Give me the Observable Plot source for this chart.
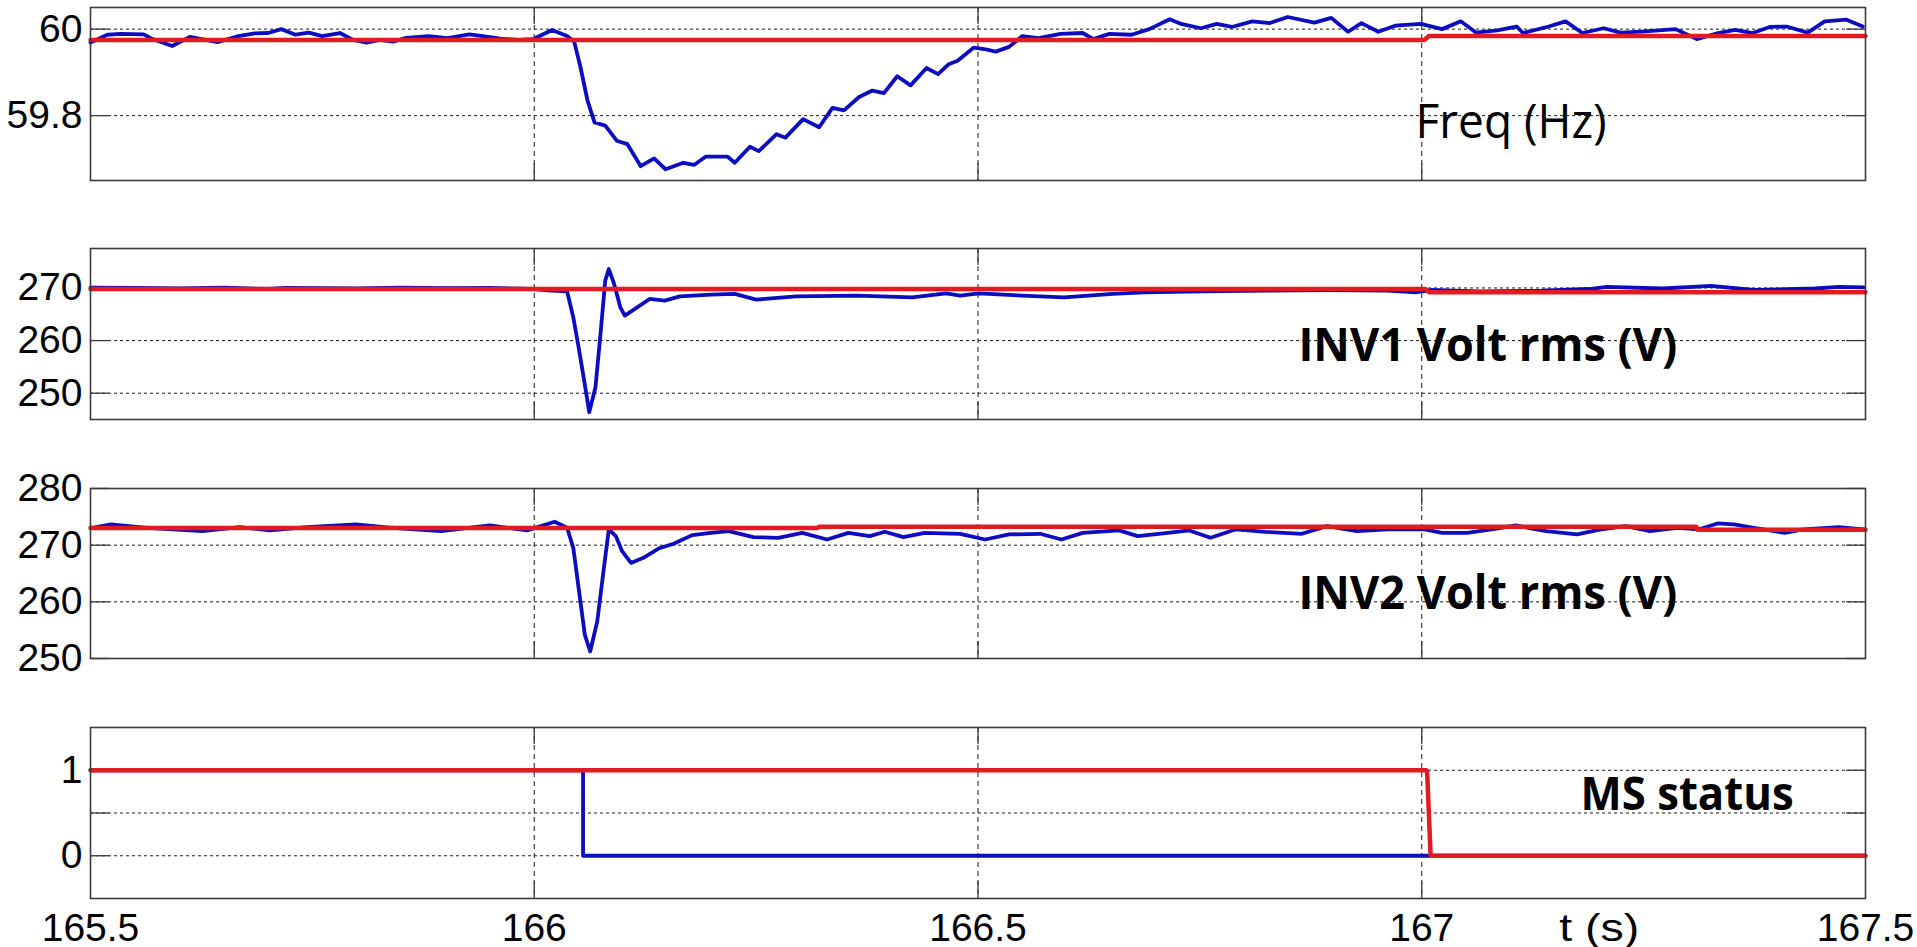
<!DOCTYPE html>
<html><head><meta charset="utf-8">
<script src="https://cdn.jsdelivr.net/npm/d3@7"></script>
<script src="https://cdn.jsdelivr.net/npm/@observablehq/plot@0.6"></script>
<style>html,body{margin:0;padding:0;background:#fff;} #chart svg{display:block;}</style>
</head><body><div id="chart"></div>
<script>
// ---------- data ----------
const xTicks = [165.5, 166, 166.5, 167, 167.5];
const xTickLabels = ["165.5", "166", "166.5", "167", "167.5"];
const xInnerTicks = [166, 166.5, 167];
const xAxisTitle = {t: 167.2, s: "t (s)"};

const freqTicks = [59.8, 60];
const freqTickLabels = ["59.8", "60"];
const inv1Ticks = [250, 260, 270];
const inv1TickLabels = ["250", "260", "270"];
const inv2Ticks = [250, 260, 270, 280];
const inv2TickLabels = ["250", "260", "270", "280"];
const msTicks = [0, 0.5, 1];
const msTickLabels = ["0", "", "1"];

// Frequency (Hz)
const freqT = [165.500,165.519,165.534,165.560,165.570,165.592,165.612,165.643,165.665,165.685,165.700,165.715,165.731,165.746,165.761,165.781,165.796,165.811,165.826,165.841,165.856,165.881,165.902,165.927,165.942,165.962,165.982,165.999,166.020,166.037,166.045,166.052,166.060,166.068,166.080,166.093,166.105,166.120,166.135,166.148,166.168,166.180,166.193,166.218,166.226,166.243,166.253,166.273,166.283,166.303,166.321,166.336,166.349,166.366,166.381,166.394,166.409,166.424,166.442,166.455,166.467,166.477,166.495,166.507,166.520,166.535,166.550,166.568,166.593,166.618,166.630,166.648,166.673,166.693,166.716,166.729,166.751,166.769,166.786,166.809,166.829,166.849,166.879,166.898,166.917,166.932,166.951,166.970,166.999,167.023,167.044,167.061,167.085,167.107,167.114,167.143,167.162,167.181,167.205,167.224,167.248,167.286,167.310,167.334,167.353,167.373,167.392,167.411,167.435,167.454,167.478,167.497];
const freqV = [59.969,59.987,59.989,59.988,59.977,59.961,59.982,59.970,59.983,59.990,59.991,60.000,59.987,59.992,59.984,59.991,59.975,59.969,59.975,59.971,59.980,59.984,59.979,59.988,59.984,59.978,59.975,59.977,59.998,59.984,59.971,59.913,59.835,59.784,59.777,59.742,59.734,59.683,59.701,59.676,59.691,59.686,59.705,59.705,59.691,59.728,59.718,59.757,59.749,59.792,59.773,59.818,59.812,59.843,59.858,59.852,59.891,59.870,59.910,59.896,59.919,59.927,59.957,59.954,59.948,59.959,59.984,59.979,59.989,59.991,59.977,59.989,59.987,60.000,60.023,60.012,60.002,60.012,60.005,60.018,60.014,60.028,60.015,60.026,59.994,60.014,59.994,60.008,60.012,60.000,60.018,59.992,59.997,60.006,59.991,60.006,60.018,59.991,60.002,59.992,59.994,60.000,59.977,59.991,59.998,59.991,60.005,60.006,59.992,60.018,60.022,60.006];
const freqRefT = [165.5, 167.003, 167.008, 167.5];
const freqRefV = [59.975, 59.975, 59.984, 59.984];

// INV1 voltage rms (V)
const inv1T = [165.500,165.550,165.600,165.650,165.700,165.720,165.800,165.850,165.900,165.950,166.000,166.019,166.037,166.044,166.050,166.055,166.062,166.069,166.075,166.080,166.084,166.090,166.097,166.102,166.116,166.130,166.147,166.164,166.199,166.226,166.250,166.295,166.364,166.426,166.464,166.480,166.501,166.549,166.597,166.652,166.687,166.755,166.824,166.893,166.962,166.993,167.010,167.065,167.134,167.188,167.209,167.271,167.326,167.374,167.443,167.470,167.498];
const inv1V = [270.05,270.00,269.90,270.05,269.80,270.00,269.90,270.05,269.95,270.00,269.80,269.49,269.36,264.42,258.73,253.67,246.40,251.14,261.90,271.39,273.60,270.76,266.32,264.74,266.32,267.91,267.59,268.41,268.73,268.86,267.78,268.41,268.54,268.22,268.98,268.54,268.98,268.54,268.22,268.86,269.17,269.36,269.49,269.61,269.49,269.17,269.61,269.36,269.49,269.80,270.20,269.90,270.40,269.61,269.90,270.20,270.10];
const inv1RefT = [165.5, 167.004, 167.008, 167.5];
const inv1RefV = [269.8, 269.8, 269.2, 269.2];

// INV2 voltage rms (V)
const inv2T = [165.502,165.523,165.564,165.626,165.668,165.702,165.744,165.799,165.840,165.895,165.950,165.992,166.023,166.037,166.044,166.050,166.057,166.063,166.071,166.078,166.084,166.092,166.099,166.109,166.123,166.140,166.157,166.178,166.199,166.219,166.247,166.275,166.302,166.330,166.354,166.378,166.395,166.416,166.440,166.480,166.508,166.535,166.570,166.594,166.618,166.659,166.680,166.714,166.738,166.762,166.790,166.824,166.865,166.893,166.927,166.962,167.003,167.023,167.051,167.079,167.106,167.140,167.175,167.202,167.230,167.257,167.288,167.312,167.333,167.352,167.374,167.409,167.430,167.470,167.498];
const inv2V = [273.07,273.66,273.07,272.48,273.19,272.60,273.19,273.66,273.07,272.48,273.48,272.60,274.13,273.07,269.53,262.45,254.19,251.24,256.55,265.40,272.77,271.60,268.94,266.87,267.76,269.41,270.24,271.77,272.18,272.48,271.42,271.30,272.18,271.00,272.18,271.59,272.36,271.42,272.18,272.01,271.00,271.89,272.01,271.00,272.18,272.60,271.59,272.18,272.60,271.30,272.77,272.36,272.01,273.36,272.48,272.77,272.77,272.18,272.18,272.77,273.48,272.48,271.89,272.77,273.36,272.48,273.07,272.77,273.83,273.66,273.07,272.18,272.77,273.19,272.77];
const inv2RefT = [165.5, 166.32, 166.32, 167.31, 167.31, 167.5];
const inv2RefV = [273.05, 273.05, 273.25, 273.25, 272.7, 272.7];

// MS status
const msT = [165.5, 166.055, 166.055, 167.5];
const msV = [1, 1, 0, 0];
const msRefT = [165.5, 167.006, 167.01, 167.5];
const msRefV = [1, 1, 0, 0];

// ---------- styles ----------
const BLUE = "#0c0cc0";
const RED = "#e21b22";
const FRAME = "#3a3a3a";
const GRID = "#1a1a1a";
const TICK_FONT = "'Liberation Sans', Arial, sans-serif";
const NOTE_FONT = "'Open Sans', 'Noto Sans', sans-serif";
const noteWidths = {"Freq (Hz)": 191, "INV1 Volt rms (V)": 379, "INV2 Volt rms (V)": 379, "MS status": 213, "t (s)": 80};

const W = 1917, ML = 90, MR = 52;
const pts = (T, V) => T.map((t, i) => ({t, v: V[i]}));

function panel({height, mt, mb, domain, ticks, tickLabels, gridTicks, blue, red, notes, weight, xAxis}) {
  const ph = height - mt - mb;
  const pw = W - ML - MR;
  const marks = [
    Plot.ruleY(gridTicks, {stroke: GRID, strokeWidth: 1, strokeDasharray: "3,3"}),
    Plot.ruleX(xInnerTicks, {stroke: GRID, strokeWidth: 1, strokeDasharray: "5,4"}),
    Plot.ruleX(xInnerTicks, {stroke: FRAME, strokeWidth: 1.3, insetBottom: ph - 17}),
    Plot.ruleX(xInnerTicks, {stroke: FRAME, strokeWidth: 1.3, insetTop: ph - 17}),
    Plot.ruleY(ticks, {stroke: FRAME, strokeWidth: 1.3, insetRight: pw - 19}),
    Plot.ruleY(ticks, {stroke: FRAME, strokeWidth: 1.3, insetLeft: pw - 19}),
    Plot.line(blue, {x: "t", y: "v", stroke: BLUE, strokeWidth: 3.8, strokeLinejoin: "round"}),
    Plot.line(red, {x: "t", y: "v", stroke: RED, strokeWidth: 4.5, strokeLinejoin: "miter"}),
    Plot.frame({stroke: FRAME, strokeWidth: 1.6}),
    Plot.text(ticks.map((d, i) => ({v: d, s: tickLabels[i]})), {
      y: "v", text: "s", frameAnchor: "left", textAnchor: "end", lineAnchor: "middle",
      dx: -8, fontSize: 39, fontFamily: TICK_FONT, fill: "#000"
    }),
    Plot.text(notes, {
      x: "t", y: "v", text: "s", textAnchor: "start", lineAnchor: "middle",
      fontSize: 47, fontFamily: NOTE_FONT, fontWeight: weight, fill: "#000"
    })
  ];
  if (xAxis) {
    marks.push(Plot.text(xTicks.map((d, i) => ({t: d, s: xTickLabels[i]})), {
      x: "t", text: "s", frameAnchor: "bottom", lineAnchor: "middle", dy: 30,
      fontSize: 39, fontFamily: TICK_FONT, fill: "#000"
    }));
    marks.push(Plot.text([xAxisTitle], {
      x: "t", text: "s", frameAnchor: "bottom", lineAnchor: "middle", dy: 30,
      fontSize: 39, fontFamily: TICK_FONT, fill: "#000"
    }));
  }
  const svg = Plot.plot({
    width: W, height, marginLeft: ML, marginRight: MR, marginTop: mt, marginBottom: mb,
    x: {domain: [xTicks[0], xTicks[xTicks.length - 1]], axis: null},
    y: {domain, axis: null},
    style: {background: "#fff", overflow: "visible"},
    marks
  });
  svg.querySelectorAll("text").forEach(el => {
    const w = noteWidths[el.textContent.trim()];
    if (w) { el.setAttribute("textLength", String(w)); el.setAttribute("lengthAdjust", "spacingAndGlyphs"); }
  });
  return svg;
}

const chart = document.getElementById("chart");
chart.append(panel({
  height: 214, mt: 7, mb: 34, domain: [59.65, 60.05],
  ticks: freqTicks, tickLabels: freqTickLabels, gridTicks: freqTicks,
  blue: pts(freqT, freqV), red: pts(freqRefT, freqRefV),
  notes: [{t: 166.993, v: 59.783, s: "Freq (Hz)"}], weight: "normal"
}));
chart.append(panel({
  height: 240, mt: 34, mb: 35, domain: [245, 277.5],
  ticks: inv1Ticks, tickLabels: inv1TickLabels, gridTicks: inv1Ticks,
  blue: pts(inv1T, inv1V), red: pts(inv1RefT, inv1RefV),
  notes: [{t: 166.861, v: 259.0, s: "INV1 Volt rms (V)"}], weight: "bold"
}));
chart.append(panel({
  height: 239, mt: 34, mb: 35, domain: [250, 280],
  ticks: inv2Ticks, tickLabels: inv2TickLabels, gridTicks: inv2Ticks,
  blue: pts(inv2T, inv2V), red: pts(inv2RefT, inv2RefV),
  notes: [{t: 166.861, v: 261.4, s: "INV2 Volt rms (V)"}], weight: "bold"
}));
chart.append(panel({
  height: 254, mt: 34, mb: 49, domain: [-0.5, 1.5],
  ticks: msTicks, tickLabels: msTickLabels, gridTicks: msTicks,
  blue: pts(msT, msV), red: pts(msRefT, msRefV),
  notes: [{t: 167.179, v: 0.71, s: "MS status"}], weight: "bold",
  xAxis: true
}));
</script>
</body></html>
